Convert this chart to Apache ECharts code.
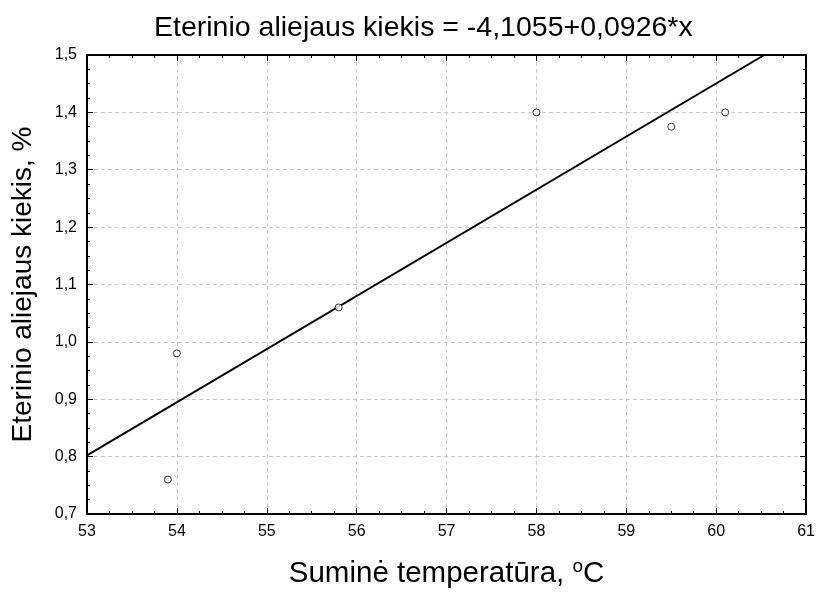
<!DOCTYPE html>
<html><head><meta charset="utf-8">
<script src="https://cdn.jsdelivr.net/npm/echarts@6/dist/echarts.min.js"></script>
<style>html,body{margin:0;padding:0;background:#fff}#c{width:818px;height:596px}</style>
</head><body><div id="c"></div>
<script>
const temps = [53.9, 54.0, 55.8, 58.0, 59.5, 60.1];
const oil = [0.76, 0.98, 1.06, 1.40, 1.375, 1.40];
const intercept = -4.1055;
const slope = 0.0926;
const xRange = [53, 61];
const yRange = [0.7, 1.5];
const titleText = 'Eterinio aliejaus kiekis = -4,1055+0,0926*x';
const yName = 'Eterinio aliejaus kiekis, %';

const pts = temps.map((t, i) => [t, oil[i]]);
// regression line clipped to plot area
const xEnd = Math.min(xRange[1], (yRange[1] - intercept) / slope);
const line = [[xRange[0], intercept + slope * xRange[0]], [xEnd, intercept + slope * xEnd]];

const font = 'Liberation Sans, Arial, sans-serif';
const chart = echarts.init(document.getElementById('c'));
const baseAxis = {
  axisLine: {show: true, onZero: false, lineStyle: {color: '#000', width: 2}},
  axisTick: {show: true, inside: true, length: 6, lineStyle: {color: '#000', width: 1}},
  minorTick: {show: true, splitNumber: 4, length: 3, lineStyle: {color: '#000', width: 1}},
};
chart.setOption({
  animation: false,
  title: {text: titleText, left: 149, top: 9, textStyle: {fontFamily: font, fontSize: 28.5, fontWeight: 'normal', color: '#000'}},
  grid: {left: 87, right: 10, top: 55, bottom: 82, containLabel: false},
  xAxis: [
    Object.assign({}, baseAxis, {
      type: 'value', min: xRange[0], max: xRange[1], interval: 1, position: 'bottom',
      name: '{n|Suminė temperatūra, }{s|o}{n|C}', nameLocation: 'middle', nameGap: 43,
      nameTextStyle: {rich: {n: {fontFamily: font, fontSize: 29.5, color: '#000'}, s: {fontFamily: font, fontSize: 19, color: '#000', verticalAlign: 'top', padding: [0,0,14,0]}}},
      axisLabel: {fontFamily: font, fontSize: 16, color: '#000', margin: 10},
      splitLine: {show: true, lineStyle: {color: '#c8c8c8', type: [4, 3], width: 1}},
    }),
    Object.assign({}, baseAxis, {
      type: 'value', min: xRange[0], max: xRange[1], interval: 1, position: 'top',
      axisLabel: {show: false}, splitLine: {show: false},
    })
  ],
  yAxis: [
    Object.assign({}, baseAxis, {
      type: 'value', min: yRange[0], max: yRange[1], interval: 0.1, position: 'left',
      name: yName, nameLocation: 'middle', nameGap: 50, nameRotate: 90,
      nameTextStyle: {fontFamily: font, fontSize: 28, color: '#000'},
      axisLabel: {fontFamily: font, fontSize: 16, color: '#000', margin: 10, formatter: v => v.toFixed(1).replace('.', ',')},
      splitLine: {show: true, lineStyle: {color: '#c8c8c8', type: [4, 3], width: 1}},
    }),
    Object.assign({}, baseAxis, {
      type: 'value', min: yRange[0], max: yRange[1], interval: 0.1, position: 'right',
      axisLabel: {show: false}, splitLine: {show: false},
    })
  ],
  series: [
    {type: 'line', data: line, symbol: 'none', lineStyle: {color: '#000', width: 2}, silent: true, z: 3},
    {type: 'scatter', data: pts, symbol: 'circle', symbolSize: 7, itemStyle: {color: '#fff', borderColor: '#000', borderWidth: 1}, z: 4}
  ]
});
</script></body></html>
